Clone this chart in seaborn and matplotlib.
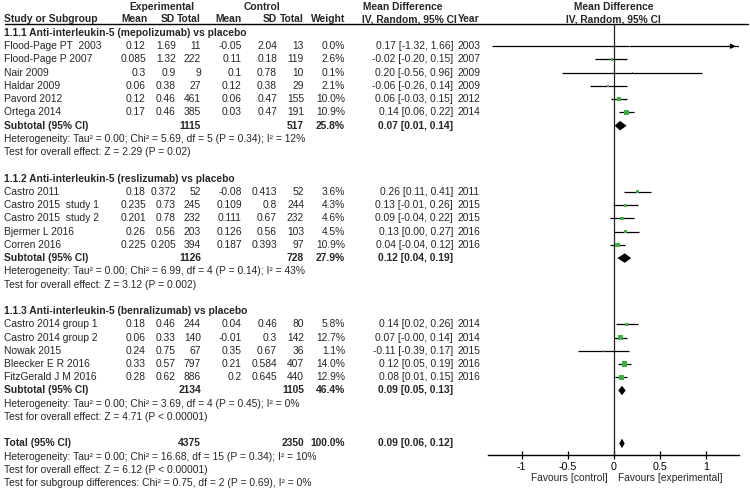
import matplotlib
matplotlib.use("Agg")
import matplotlib.pyplot as plt
import seaborn as sns
import numpy as np

# ---- data ----
titles = ["1.1.1 Anti-interleukin-5 (mepolizumab) vs placebo",
          "1.1.2 Anti-interleukin-5 (reslizumab) vs placebo",
          "1.1.3 Anti-interleukin-5 (benralizumab) vs placebo"]

names1 = ["Flood-Page PT  2003", "Flood-Page P 2007", "Nair 2009", "Haldar 2009", "Pavord 2012", "Ortega 2014"]
exp_mean1 = [0.12, 0.085, 0.3, 0.06, 0.12, 0.17]
exp_sd1 = [1.69, 1.32, 0.9, 0.38, 0.46, 0.46]
exp_n1 = [11, 222, 9, 27, 461, 385]
ctl_mean1 = [-0.05, 0.11, 0.1, 0.12, 0.06, 0.03]
ctl_sd1 = [2.04, 0.18, 0.78, 0.38, 0.47, 0.47]
ctl_n1 = [13, 119, 10, 29, 155, 191]
weight1 = [0.0, 2.6, 0.1, 2.1, 10.0, 10.9]
md1 = [0.17, -0.02, 0.20, -0.06, 0.06, 0.14]
lo1 = [-1.32, -0.20, -0.56, -0.26, -0.03, 0.06]
hi1 = [1.66, 0.15, 0.96, 0.14, 0.15, 0.22]
year1 = [2003, 2007, 2009, 2009, 2012, 2014]

names2 = ["Castro 2011", "Castro 2015  study 1", "Castro 2015  study 2", "Bjermer L 2016", "Corren 2016"]
exp_mean2 = [0.18, 0.235, 0.201, 0.26, 0.225]
exp_sd2 = [0.372, 0.73, 0.78, 0.56, 0.205]
exp_n2 = [52, 245, 232, 203, 394]
ctl_mean2 = [-0.08, 0.109, 0.111, 0.126, 0.187]
ctl_sd2 = [0.413, 0.8, 0.67, 0.56, 0.393]
ctl_n2 = [52, 244, 232, 103, 97]
weight2 = [3.6, 4.3, 4.6, 4.5, 10.9]
md2 = [0.26, 0.13, 0.09, 0.13, 0.04]
lo2 = [0.11, -0.01, -0.04, 0.00, -0.04]
hi2 = [0.41, 0.26, 0.22, 0.27, 0.12]
year2 = [2011, 2015, 2015, 2016, 2016]

names3 = ["Castro 2014 group 1", "Castro 2014 group 2", "Nowak 2015", "Bleecker E R 2016", "FitzGerald J M 2016"]
exp_mean3 = [0.18, 0.06, 0.24, 0.33, 0.28]
exp_sd3 = [0.46, 0.33, 0.75, 0.57, 0.62]
exp_n3 = [244, 140, 67, 797, 886]
ctl_mean3 = [0.04, -0.01, 0.35, 0.21, 0.2]
ctl_sd3 = [0.46, 0.3, 0.67, 0.584, 0.645]
ctl_n3 = [80, 142, 36, 407, 440]
weight3 = [5.8, 12.7, 1.1, 14.0, 12.9]
md3 = [0.14, 0.07, -0.11, 0.12, 0.08]
lo3 = [0.02, -0.00, -0.39, 0.05, 0.01]
hi3 = [0.26, 0.14, 0.17, 0.19, 0.15]
year3 = [2014, 2014, 2015, 2016, 2016]

sub_n_exp = [1115, 1126, 2134]
sub_n_ctl = [517, 728, 1105]
sub_w = [25.8, 27.9, 46.4]
sub_md = [0.07, 0.12, 0.09]
sub_lo = [0.01, 0.04, 0.05]
sub_hi = [0.14, 0.19, 0.13]
het = ["Heterogeneity: Tau² = 0.00; Chi² = 5.69, df = 5 (P = 0.34); I² = 12%",
       "Heterogeneity: Tau² = 0.00; Chi² = 6.99, df = 4 (P = 0.14); I² = 43%",
       "Heterogeneity: Tau² = 0.00; Chi² = 3.69, df = 4 (P = 0.45); I² = 0%"]
effect = ["Test for overall effect: Z = 2.29 (P = 0.02)",
          "Test for overall effect: Z = 3.12 (P = 0.002)",
          "Test for overall effect: Z = 4.71 (P < 0.00001)"]

tot_n_exp = 4375
tot_n_ctl = 2350
tot_w = 100.0
tot_md, tot_lo, tot_hi = 0.09, 0.06, 0.12
tot_het = "Heterogeneity: Tau² = 0.00; Chi² = 16.68, df = 15 (P = 0.34); I² = 10%"
tot_effect = "Test for overall effect: Z = 6.12 (P < 0.00001)"
subgroup_test = "Test for subgroup differences: Chi² = 0.75, df = 2 (P = 0.69), I² = 0%"

ticks = [-1, -0.5, 0, 0.5, 1]
tick_labels = ["-1", "-0.5", "0", "0.5", "1"]

groups = [
    (names1, exp_mean1, exp_sd1, exp_n1, ctl_mean1, ctl_sd1, ctl_n1, weight1, md1, lo1, hi1, year1),
    (names2, exp_mean2, exp_sd2, exp_n2, ctl_mean2, ctl_sd2, ctl_n2, weight2, md2, lo2, hi2, year2),
    (names3, exp_mean3, exp_sd3, exp_n3, ctl_mean3, ctl_sd3, ctl_n3, weight3, md3, lo3, hi3, year3),
]

sns.set_theme(style="white")
plt.rcParams['font.family'] = ['Liberation Sans', 'DejaVu Sans']
FS = 7.4

fig = plt.figure(figsize=(7.5, 4.93), dpi=100)

# table axes: x in pixels, y in row units
y0, dy = 33.0, 13.24
def pix2row(p):
    return (p - y0) / dy

tab = fig.add_axes([0, 0, 1, 1])
tab.set_xlim(0, 750)
tab.set_ylim(pix2row(493), pix2row(0))
tab.axis('off')

# forest axes
xl, xr = -1.366, 1.362
ax_top, ax_bot = 24, 455
ax = fig.add_axes([488 / 750, (493 - ax_bot) / 493, (739 - 488) / 750, (ax_bot - ax_top) / 493])
ax.set_xlim(xl, xr)
ax.set_ylim(pix2row(ax_bot), pix2row(ax_top))
ax.patch.set_alpha(0)

# column x positions (pixels)
c_name, c_em, c_esd, c_en, c_cm, c_csd, c_cn, c_w, c_ci, c_yr = 4, 146, 176, 201, 242, 277, 304, 345, 453, 458

def txt(x, y, s, ha='left', bold=False):
    tab.text(x, y, s, ha=ha, va='center', fontsize=FS, fontweight='bold' if bold else 'normal')

def ci(m, l, h):
    return f"{m:.2f} [{l:.2f}, {h:.2f}]"

# header
hy1, hy2 = pix2row(7), pix2row(19)
txt(162, hy1, "Experimental", ha='center', bold=True)
txt(262, hy1, "Control", ha='center', bold=True)
txt(363, hy1, "Mean Difference", bold=True)
txt(c_name, hy2, "Study or Subgroup", bold=True)
for x, s in [(148, "Mean"), (175, "SD"), (c_en, "Total"), (c_cm, "Mean"),
             (c_csd, "SD"), (c_cn, "Total"), (c_w, "Weight")]:
    txt(x, hy2, s, ha='right', bold=True)
txt(362, hy2, "IV, Random, 95% CI", bold=True)
txt(c_yr, hy2, "Year", bold=True)
ax.text(0, hy1, "Mean Difference", ha='center', va='center', fontsize=FS, fontweight='bold', clip_on=False)
ax.text(0, hy2, "IV, Random, 95% CI", ha='center', va='center', fontsize=FS, fontweight='bold', clip_on=False)
tab.plot([5, 748], [pix2row(24), pix2row(24)], color='black', lw=1)

green = '#3cb043'
row = 0
all_rows, all_md, all_w, all_lo, all_hi = [], [], [], [], []
for gi, g in enumerate(groups):
    names, em, esd, en, cm, csd, cn, w, md, lo, hi, yr = g
    txt(c_name, row, titles[gi], bold=True)
    for j in range(len(names)):
        r = row + 1 + j
        txt(c_name, r, names[j])
        txt(c_em, r, str(em[j]), ha='right')
        txt(c_esd, r, str(esd[j]), ha='right')
        txt(c_en, r, str(en[j]), ha='right')
        txt(c_cm, r, str(cm[j]), ha='right')
        txt(c_csd, r, str(csd[j]), ha='right')
        txt(c_cn, r, str(cn[j]), ha='right')
        txt(c_w, r, f"{w[j]:.1f}%", ha='right')
        txt(c_ci, r, ci(md[j], lo[j], hi[j]), ha='right')
        txt(c_yr, r, str(yr[j]))
        all_rows.append(r); all_md.append(md[j]); all_w.append(w[j])
        all_lo.append(lo[j]); all_hi.append(hi[j])
    rs = row + 1 + len(names)
    txt(c_name, rs, "Subtotal (95% CI)", bold=True)
    txt(c_en, rs, str(sub_n_exp[gi]), ha='right', bold=True)
    txt(c_cn, rs, str(sub_n_ctl[gi]), ha='right', bold=True)
    txt(c_w, rs, f"{sub_w[gi]:.1f}%", ha='right', bold=True)
    txt(c_ci, rs, ci(sub_md[gi], sub_lo[gi], sub_hi[gi]), ha='right', bold=True)
    ax.fill([sub_lo[gi], sub_md[gi], sub_hi[gi], sub_md[gi]],
            [rs, rs - 0.36, rs, rs + 0.36], color='black', lw=0)
    txt(c_name, rs + 1, het[gi])
    txt(c_name, rs + 2, effect[gi])
    row = rs + 4

# overall
txt(c_name, row, "Total (95% CI)", bold=True)
txt(c_en, row, str(tot_n_exp), ha='right', bold=True)
txt(c_cn, row, str(tot_n_ctl), ha='right', bold=True)
txt(c_w, row, f"{tot_w:.1f}%", ha='right', bold=True)
txt(c_ci, row, ci(tot_md, tot_lo, tot_hi), ha='right', bold=True)
ax.fill([tot_lo, tot_md, tot_hi, tot_md], [row, row - 0.36, row, row + 0.36], color='black', lw=0)
txt(c_name, row + 1, tot_het)
txt(c_name, row + 2, tot_effect)
txt(c_name, row + 3, subgroup_test)

# study CIs and weight squares
all_rows = np.array(all_rows); all_lo = np.array(all_lo); all_hi = np.array(all_hi)
ax.hlines(all_rows, np.maximum(all_lo, xl), np.minimum(all_hi, xr), color='black', lw=0.9, zorder=2)
for r, l, h in zip(all_rows, all_lo, all_hi):
    if h > xr:
        ax.annotate("", xy=(xr - 0.005, r), xytext=(xr - 0.1, r),
                    arrowprops=dict(arrowstyle='-|>', color='black', lw=0.9, mutation_scale=7))
sns.scatterplot(x=all_md, y=all_rows, size=all_w, sizes=(0.6, 14), size_norm=(0, 14),
                marker='s', color=green, edgecolor='none', legend=False, ax=ax, zorder=3)

ax.axvline(0, color='#222222', lw=0.9, zorder=1)

# axis styling
for s in ['top', 'right', 'left']:
    ax.spines[s].set_visible(False)
ax.spines['bottom'].set_color('black')
ax.spines['bottom'].set_linewidth(1)
ax.set_yticks([])
ax.set_xticks(ticks)
ax.set_xticklabels(tick_labels, fontsize=FS + 0.3)
ax.tick_params(axis='x', direction='inout', length=6, width=0.9, pad=2, colors='black', bottom=True)
ax.set_xlabel("")
ax.set_ylabel("")

fy = pix2row(478)
txt(608, fy, "Favours [control]", ha='right')
txt(618, fy, "Favours [experimental]")

fig.savefig("out.png", dpi=100)
